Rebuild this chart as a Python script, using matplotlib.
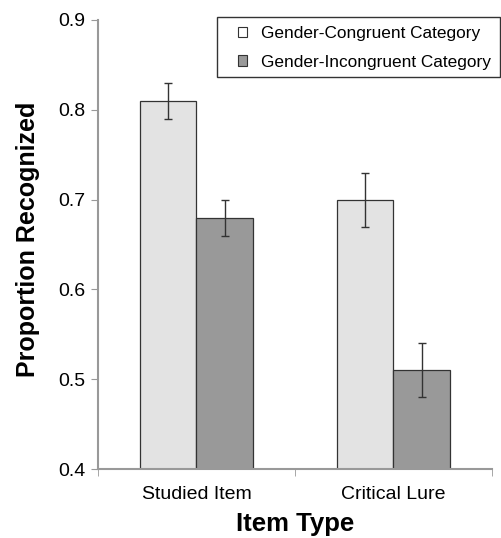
import numpy as np
import matplotlib
matplotlib.use("Agg")
import matplotlib.pyplot as plt
from matplotlib.patches import Patch, Rectangle

# data
item_types = ["Studied Item", "Critical Lure"]
congruent = [0.81, 0.70]
congruent_err = [0.02, 0.03]
incongruent = [0.68, 0.51]
incongruent_err = [0.02, 0.03]
yticks = [0.4, 0.5, 0.6, 0.7, 0.8, 0.9]

plt.rcParams['font.family'] = ['Liberation Sans', 'DejaVu Sans']

W, H = 502, 538
fig = plt.figure(figsize=(W / 100, H / 100), dpi=100)
ax = fig.add_axes([98 / W, 69 / H, 394 / W, 449 / H])

x = np.arange(len(item_types))
w = 0.285
err_kw = dict(ecolor='#333333', elinewidth=1.0, capsize=3, capthick=1.0)
ax.bar(x - w / 2, congruent, w, yerr=congruent_err, color='#e3e3e3',
       edgecolor='#333333', linewidth=0.9, error_kw=err_kw)
ax.bar(x + w / 2, incongruent, w, yerr=incongruent_err, color='#999999',
       edgecolor='#333333', linewidth=0.9, error_kw=err_kw)

ax.set_xlim(-0.5, 1.5)
ax.set_ylim(0.4, 0.9)
ax.set_yticks(yticks)
ax.set_yticklabels([f"{v:.1f}" for v in yticks])
ax.set_xticks(x)
ax.set_xticklabels(item_types)

# category separators on the x axis
ax.set_xticks([-0.5, 0.5, 1.5], minor=True)
ax.tick_params(axis='x', which='major', length=0, pad=12, labelsize=14)
ax.tick_params(axis='x', which='minor', length=5, color='#999999')
ax.tick_params(axis='y', length=5, color='#999999', labelsize=14, pad=4)

for s in ['top', 'right']:
    ax.spines[s].set_visible(False)
for s in ['left', 'bottom']:
    ax.spines[s].set_color('#999999')
    ax.spines[s].set_linewidth(1.5)

ax.set_ylabel('Proportion Recognized', fontsize=18, fontweight='bold', labelpad=13)
ax.yaxis.label.set_y(0.512)
ax.set_xlabel('Item Type', fontsize=18.5, fontweight='bold', labelpad=7)

# legend: frame drawn separately so the padding can differ per side
handles = [Patch(facecolor='white', edgecolor='#333333', linewidth=0.8,
                 label='Gender-Congruent Category'),
           Patch(facecolor='#999999', edgecolor='#333333', linewidth=0.8,
                 label='Gender-Incongruent Category')]
leg = fig.legend(handles=handles, loc='upper left',
                 bbox_to_anchor=(238 / W, 1 - 26 / H),
                 bbox_transform=fig.transFigure,
                 fontsize=12.4, frameon=False,
                 handlelength=0.55, handleheight=0.55, handletextpad=0.8,
                 borderpad=0, borderaxespad=0, labelspacing=0.8)
leg.set_zorder(6)
fig.add_artist(Rectangle((217 / W, 1 - 77 / H), 283 / W, 60 / H,
                         transform=fig.transFigure, facecolor='white',
                         edgecolor='#333333', linewidth=1, zorder=4))

fig.savefig('out.png', dpi=100)
